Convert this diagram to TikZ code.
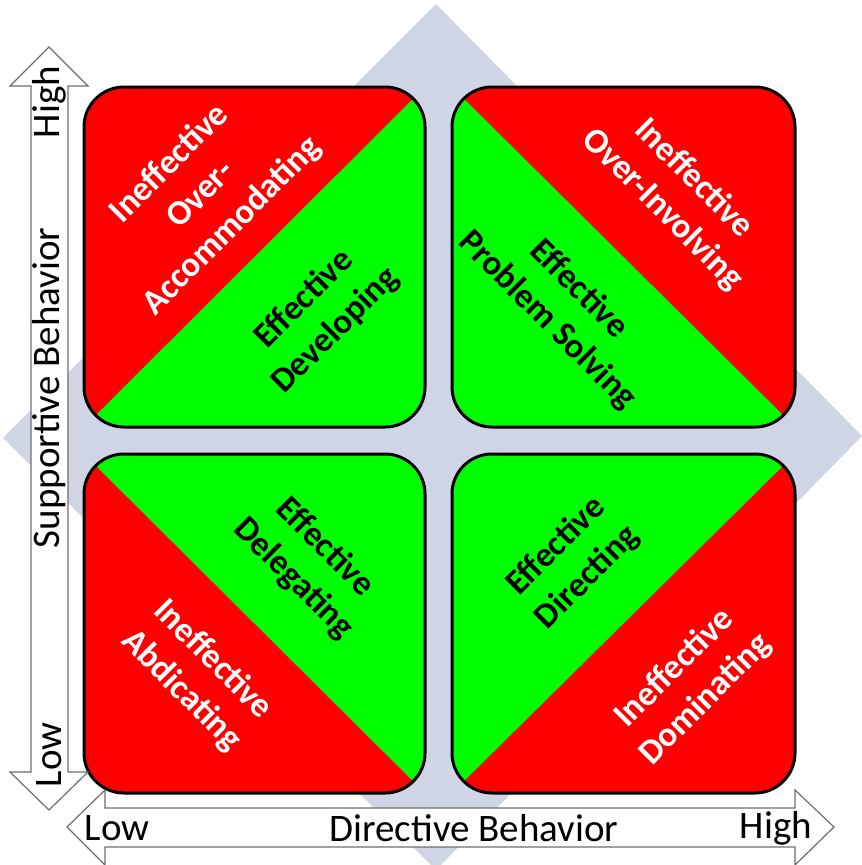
\documentclass[tikz,border=0pt]{standalone}
\usepackage{fontspec}
\setmainfont{Carlito}

\newcommand{\varR}{40}
\newcommand{\varxa}{84}
\newcommand{\varxb}{425}
\newcommand{\varxc}{452}
\newcommand{\varxd}{795}
\newcommand{\varya}{87}
\newcommand{\varyb}{427}
\newcommand{\varyc}{454}
\newcommand{\varyd}{793}
\definecolor{myred}{RGB}{255,0,0}
\definecolor{mygreen}{RGB}{0,255,0}
\definecolor{mydiamond}{RGB}{207,213,229}
\definecolor{myarrow}{RGB}{110,110,110}

\tikzset{
	quadborder/.style={draw=black, line width=3pt, rounded corners=\varR pt},
	quadclip/.style={rounded corners=\varR pt},
	axisarrow/.style={draw=myarrow, fill=white, line width=1.2pt},
	good/.style={inner sep=0pt, align=center, text=black, font=\bfseries\fontsize{35}{44}\selectfont},
	bad/.style={good, text=white},
	axislabel/.style={inner sep=0pt, font=\fontsize{39}{46}\selectfont}
}

\begin{document}
\begin{tikzpicture}[x=1pt, y=-1pt]
	\useasboundingbox (0,0) rectangle (862,865);

	% fillers
	\fill [mydiamond] (3,438) -- (436,4) -- (862,436) -- (436,870) -- cycle;

	% quadrants
	\begin{scope}
		\clip [quadclip] (\varxa,\varya) rectangle (\varxb,\varyb);
		\fill [myred] (\varxa,\varya) rectangle (\varxb,\varyb);
		\fill [mygreen] (\varxa,\varyb) -- (\varxb,\varya) -- (\varxb,\varyb) -- cycle;
	\end{scope}
	\begin{scope}
		\clip [quadclip] (\varxc,\varya) rectangle (\varxd,\varyb);
		\fill [myred] (\varxc,\varya) rectangle (\varxd,\varyb);
		\fill [mygreen] (\varxc,\varya) -- (\varxd,\varyb) -- (\varxc,\varyb) -- cycle;
	\end{scope}
	\begin{scope}
		\clip [quadclip] (\varxa,\varyc) rectangle (\varxb,\varyd);
		\fill [myred] (\varxa,\varyc) rectangle (\varxb,\varyd);
		\fill [mygreen] (\varxa,\varyc) -- (\varxb,\varyc) -- (\varxb,\varyd) -- cycle;
	\end{scope}
	\begin{scope}
		\clip [quadclip] (\varxc,\varyc) rectangle (\varxd,\varyd);
		\fill [myred] (\varxc,\varyc) rectangle (\varxd,\varyd);
		\fill [mygreen] (\varxc,\varyc) -- (\varxd,\varyc) -- (\varxc,\varyd) -- cycle;
	\end{scope}

	% lines
	\draw [quadborder] (\varxa,\varya) rectangle (\varxb,\varyb);
	\draw [quadborder] (\varxc,\varya) rectangle (\varxd,\varyb);
	\draw [quadborder] (\varxa,\varyc) rectangle (\varxb,\varyd);
	\draw [quadborder] (\varxc,\varyc) rectangle (\varxd,\varyd);

	% axes
	\draw [axisarrow] (31,86) -- (10,86) -- (49,47) -- (88,86) -- (68,86) -- (68,772)
		-- (88,772) -- (49,810) -- (10,772) -- (31,772) -- cycle;
	\draw [axisarrow] (105,808) -- (105,790) -- (67,827) -- (105,865) -- (105,847) -- (795,847)
		-- (795,865) -- (834,827) -- (795,790) -- (795,808) -- cycle;

	% captions
	\node [bad, rotate=45] (tlbad) at (201,195) {Ineffective\\Over-\\Accommodating};
	\node [good, rotate=45] (tlgood) at (320,315) {Effective\\Developing};
	\node [bad, rotate=-45] (trbad) at (678,194) {Ineffective\\Over-Involving};
	\node [good, rotate=-45] (trgood) at (563,305) {Effective\\Problem Solving};
	\node [good, rotate=-45] (blgood) at (309,563) {Effective\\Delegating};
	\node [bad, rotate=-45] (blbad) at (197,675) {Ineffective\\Abdicating};
	\node [good, rotate=45] (brgood) at (572,562) {Effective\\Directing};
	\node [bad, rotate=45] (brbad) at (690,684) {Ineffective\\Dominating};

	\node [axislabel, rotate=90] (suphigh) at (49,102) {High};
	\node [axislabel, rotate=90] (suplabel) at (49,388) {Supportive Behavior};
	\node [axislabel, rotate=90] (suplow) at (49,755) {Low};
	\node [axislabel] (dirlow) at (117,828) {Low};
	\node [axislabel] (dirlabel) at (474,828) {Directive Behavior};
	\node [axislabel] (dirhigh) at (776,828) {High};
\end{tikzpicture}
\end{document}
